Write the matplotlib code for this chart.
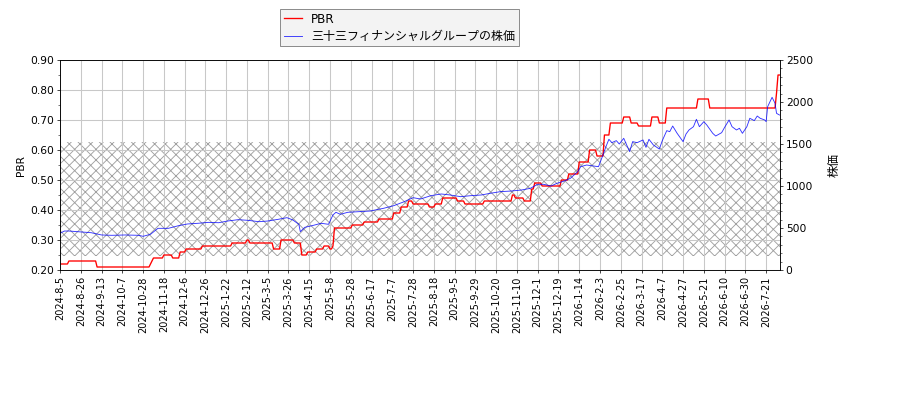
import numpy as np
import matplotlib
matplotlib.use("Agg")
import matplotlib.pyplot as plt
from matplotlib.ticker import MultipleLocator, FormatStrFormatter

plt.rcParams['font.family'] = ['DejaVu Sans', 'Noto Sans CJK JP']
plt.rcParams['font.size'] = 12
plt.rcParams['hatch.linewidth'] = 1.0

# 営業日インデックス 0..485
n_dias = 486

# PBR: 値が変わる日(インデックス)とその値
pbr_idx = [0, 6, 25, 61, 62, 63, 70, 76, 81, 85, 96, 116, 126, 128, 144, 149, 158, 163, 167,
           173, 178, 182, 184, 185, 197, 205, 215, 225, 230, 235, 238, 249, 253, 258, 268,
           273, 286, 305, 307, 313, 318, 320, 325, 338, 343, 350, 357, 362, 367, 371, 380,
           385, 390, 399, 404, 409, 430, 438, 483, 484]
pbr_val = [0.22, 0.23, 0.21, 0.22, 0.23, 0.24, 0.25, 0.24, 0.26, 0.27, 0.28, 0.29, 0.30, 0.29,
           0.27, 0.30, 0.29, 0.25, 0.26, 0.27, 0.28, 0.27, 0.28, 0.34, 0.35, 0.36, 0.37, 0.39,
           0.41, 0.43, 0.42, 0.41, 0.42, 0.44, 0.43, 0.42, 0.43, 0.45, 0.44, 0.43, 0.47, 0.49,
           0.48, 0.50, 0.52, 0.56, 0.60, 0.58, 0.65, 0.69, 0.71, 0.69, 0.68, 0.71, 0.69, 0.74,
           0.77, 0.74, 0.79, 0.85]

# 株価 (読み取り点)
precio_idx = [0, 3, 6, 12, 21, 28, 35, 44, 53, 56, 61, 66, 73, 80, 86, 93, 100, 107, 113, 120,
              127, 134, 140, 147, 153, 157, 161, 162, 165, 170, 176, 181, 184, 186, 189, 194,
              201, 209, 218, 225, 232, 238, 243, 250, 257, 263, 270, 277, 284, 290, 297, 304,
              311, 317, 322, 326, 331, 335, 340, 344, 349, 351, 355, 358, 363, 366, 368, 370,
              372, 375, 377, 380, 382, 384, 386, 389, 393, 395, 397, 400, 404, 406, 409, 411,
              413, 416, 420, 422, 424, 427, 429, 431, 434, 436, 440, 442, 446, 448, 451, 453,
              456, 458, 460, 463, 465, 468, 470, 472, 475, 476, 477, 480, 482, 483, 485]
precio_val = [437, 464, 464, 456, 444, 417, 413, 417, 413, 401, 425, 496, 496, 528, 548, 556,
              567, 563, 583, 599, 591, 575, 583, 603, 623, 595, 544, 456, 508, 528, 556, 544,
              655, 687, 663, 687, 694, 702, 734, 766, 813, 861, 845, 885, 905, 893, 873, 885,
              893, 913, 933, 940, 952, 972, 1020, 1020, 1000, 1032, 1060, 1091, 1171, 1230,
              1250, 1242, 1230, 1369, 1468, 1556, 1516, 1540, 1500, 1568, 1488, 1409, 1528,
              1516, 1548, 1460, 1556, 1488, 1440, 1540, 1659, 1647, 1714, 1627, 1528, 1619,
              1667, 1706, 1794, 1706, 1766, 1726, 1627, 1595, 1635, 1698, 1786, 1706, 1667,
              1687, 1627, 1706, 1806, 1778, 1833, 1806, 1786, 1766, 1944, 2056, 1984, 1865,
              1845]

etiquetas_x = ['2024-8-5', '2024-8-26', '2024-9-13', '2024-10-7', '2024-10-28', '2024-11-18',
               '2024-12-6', '2024-12-26', '2025-1-22', '2025-2-12', '2025-3-5', '2025-3-26',
               '2025-4-15', '2025-5-8', '2025-5-28', '2025-6-17', '2025-7-7', '2025-7-28',
               '2025-8-18', '2025-9-5', '2025-9-29', '2025-10-20', '2025-11-10', '2025-12-1',
               '2025-12-19', '2026-1-14', '2026-2-3', '2026-2-25', '2026-3-17', '2026-4-7',
               '2026-4-27', '2026-5-21', '2026-6-10', '2026-6-30', '2026-7-21']

# serie diaria del PBR (mantener el valor hasta el siguiente cambio)
pbr = np.repeat(pbr_val, np.diff(pbr_idx + [n_dias]))
x = np.arange(n_dias)

fig, ax1 = plt.subplots(figsize=(900 / 64, 400 / 64), dpi=64)
fig.subplots_adjust(left=60 / 900, right=779.5 / 900, top=1 - 60 / 400, bottom=1 - 270 / 400)

ax1.axhspan(0.247, 0.627, facecolor='none', edgecolor='#a0a0a0', hatch='xx', linewidth=0, zorder=0)
l1, = ax1.plot(x, pbr, color='red', lw=1.5, label='PBR')
ax1.set_xlim(0, n_dias - 1)
ax1.set_ylim(0.2, 0.9)
ax1.yaxis.set_major_locator(MultipleLocator(0.1))
ax1.yaxis.set_minor_locator(MultipleLocator(0.05))
ax1.yaxis.set_major_formatter(FormatStrFormatter('%.2f'))
ax1.set_xticks(np.arange(0, 14 * len(etiquetas_x), 14))
ax1.set_xticklabels(etiquetas_x, rotation=90, fontsize=11)
ax1.set_ylabel('PBR')
ax1.grid(True, color='#c8c8c8', lw=1.2)
ax1.set_axisbelow(True)

ax2 = ax1.twinx()
l2, = ax2.plot(precio_idx, precio_val, color='blue', lw=1.0, alpha=0.8,
               label='三十三フィナンシャルグループの株価')
ax2.set_ylim(0, 2500)
ax2.yaxis.set_major_locator(MultipleLocator(500))
ax2.yaxis.set_minor_locator(MultipleLocator(100))
ax2.set_ylabel('株価', fontsize=13.5, labelpad=16)

leg = fig.legend([l1, l2], [l1.get_label(), l2.get_label()], loc='upper left',
                 bbox_to_anchor=(280 / 900, 1 - 9 / 400), borderaxespad=0, fancybox=False,
                 framealpha=1, fontsize=13.5, handlelength=1.5, labelspacing=0.35,
                 borderpad=0.3)
leg.get_frame().set_facecolor('#f3f3f3')
leg.get_frame().set_edgecolor('#808080')

fig.savefig('out.png', dpi=64)
